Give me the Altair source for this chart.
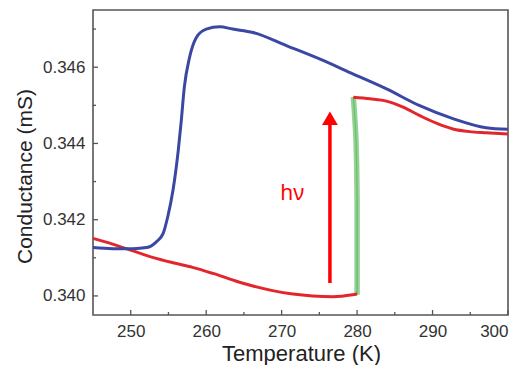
import altair as alt
import pandas as pd

# Blue curve (high-conductance branch)
blue_T = [245, 247.6, 250.3, 252.1, 253.4, 254.3, 254.9, 255.6, 256.3, 256.7, 257.1, 257.8,
          258.7, 260.0, 261.8, 263.5, 266.2, 270.7, 275.1, 279.5, 283.9, 288.3, 292.7, 297.1, 300]
blue_G = [0.34127, 0.34124, 0.34124, 0.34127, 0.34142, 0.34164, 0.34207, 0.34277, 0.34382, 0.3446,
          0.34547, 0.34626, 0.34678, 0.34700, 0.34706, 0.34700, 0.34691, 0.34656, 0.34621, 0.34582,
          0.34543, 0.34499, 0.34465, 0.34441, 0.34437]

# Red curve before illumination
red1_T = [245, 247.6, 250.3, 252.9, 255.6, 258.2, 260.9, 263.5, 266.2, 268.8, 271.5, 274.1, 276.8, 279.4, 280.0]
red1_G = [0.34151, 0.34136, 0.34118, 0.34101, 0.34087, 0.34075, 0.34059, 0.34042, 0.34026, 0.34014,
          0.34005, 0.34000, 0.33998, 0.34003, 0.34005]

# Red curve after illumination
red2_T = [279.5, 281.7, 283.9, 286.1, 288.3, 290.5, 292.7, 294.9, 297.1, 300]
red2_G = [0.34521, 0.34517, 0.34511, 0.34495, 0.34473, 0.34453, 0.34438, 0.34431, 0.34428, 0.34425]

# Green jump at 280 K
green_T = [280.0, 280.0, 279.9, 279.7, 279.5]
green_G = [0.34003, 0.3425, 0.34377, 0.34466, 0.34522]

# Axis ticks
x_major = [250, 260, 270, 280, 290, 300]
x_minor = [255, 265, 275, 285, 295]
y_major = [0.340, 0.342, 0.344, 0.346]
y_minor = [0.341, 0.343, 0.345, 0.347]

# Annotation
arrow_T = [276.4]
arrow_G0 = [0.34034]
arrow_G1 = [0.34475]
arrow_head_G = [0.34466]
label_T = [271.4]
label_G = [0.34252]
label_text = ["hν"]

W, H = 415, 305
FONT = "Liberation Sans"
xs = alt.Scale(domain=[245, 300], nice=False, zero=False)
ys = alt.Scale(domain=[0.3395, 0.3475], nice=False, zero=False)

AX_X = alt.Axis(
    title="Temperature (K)", values=x_major, format="d", ticks=False, tickSize=0,
    domain=False, grid=False, labelFont=FONT, labelFontSize=17, labelColor="#333",
    labelPadding=8, titleFont=FONT, titleFontSize=22, titleFontWeight="normal",
    titleColor="#222", titleX=208, titleY=45, titleBaseline="alphabetic")
AX_Y = alt.Axis(
    title="Conductance (mS)", values=y_major, format=".3f", ticks=False, tickSize=0,
    domain=False, grid=False, labelFont=FONT, labelFontSize=17, labelColor="#333",
    labelPadding=8, titleFont=FONT, titleFontSize=21, titleFontWeight="normal",
    titleColor="#222", titleX=-68, titleY=166, titleBaseline="middle", titleAngle=-90)


def X():
    return alt.X("T:Q", scale=xs, axis=AX_X, title="Temperature (K)")


def Y():
    return alt.Y("G:Q", scale=ys, axis=AX_Y, title="Conductance (mS)")


def line_layer(T, G, color, width, opacity=1.0):
    df = pd.DataFrame({"T": T, "G": G, "o": range(len(T))})
    return alt.Chart(df).mark_line(color=color, strokeWidth=width, opacity=opacity,
                                   interpolate="monotone").encode(x=X(), y=Y(), order="o:Q")


def xtick_layer(vals, length):
    df = pd.DataFrame({"T": vals})
    return alt.Chart(df).mark_rule(color="#555", strokeWidth=1.3).encode(
        x=X(), y=alt.value(H), y2=alt.value(H - length))


def ytick_layer(vals, length):
    df = pd.DataFrame({"G": vals})
    return alt.Chart(df).mark_rule(color="#555", strokeWidth=1.3).encode(
        y=Y(), x=alt.value(0), x2=alt.value(length))


arrow_df = pd.DataFrame({"T": arrow_T, "G": arrow_G0, "G1": arrow_G1})
arrow_line = alt.Chart(arrow_df).mark_rule(color="#ff0000", strokeWidth=3.5).encode(
    x=X(), y=Y(), y2="G1:Q")
head_df = pd.DataFrame({"T": arrow_T, "G": arrow_head_G})
arrow_head = alt.Chart(head_df).mark_point(shape="triangle-up", filled=True, color="#ff0000",
                                           size=250, opacity=1).encode(x=X(), y=Y())

label_df = pd.DataFrame({"T": label_T, "G": label_G, "t": label_text})
label = alt.Chart(label_df).mark_text(color="#ff0000", font="Noto Sans", fontSize=21,
                                      align="center", baseline="alphabetic").encode(
    x=X(), y=Y(), text="t:N")

chart = alt.layer(
    xtick_layer(x_major, 5), xtick_layer(x_minor, 3),
    ytick_layer(y_major, 5), ytick_layer(y_minor, 3),
    line_layer(green_T, green_G, "#8fd08f", 5.5, 0.95),
    line_layer(green_T, green_G, "#5fb85f", 1.2, 0.8),
    line_layer(red1_T, red1_G, "#e3262b", 3),
    line_layer(red2_T, red2_G, "#e3262b", 3),
    line_layer(blue_T, blue_G, "#3a47a3", 3),
    arrow_line, arrow_head, label,
).properties(
    width=W, height=H,
    autosize=alt.AutoSizeParams(type="none"),
    padding={"left": 85, "top": 2, "right": 8, "bottom": 50},
).configure(
    background="white",
    view=alt.ViewConfig(stroke="#555", strokeWidth=1.6),
)

chart.save("out.html", embed_options={"renderer": "svg", "actions": False})
